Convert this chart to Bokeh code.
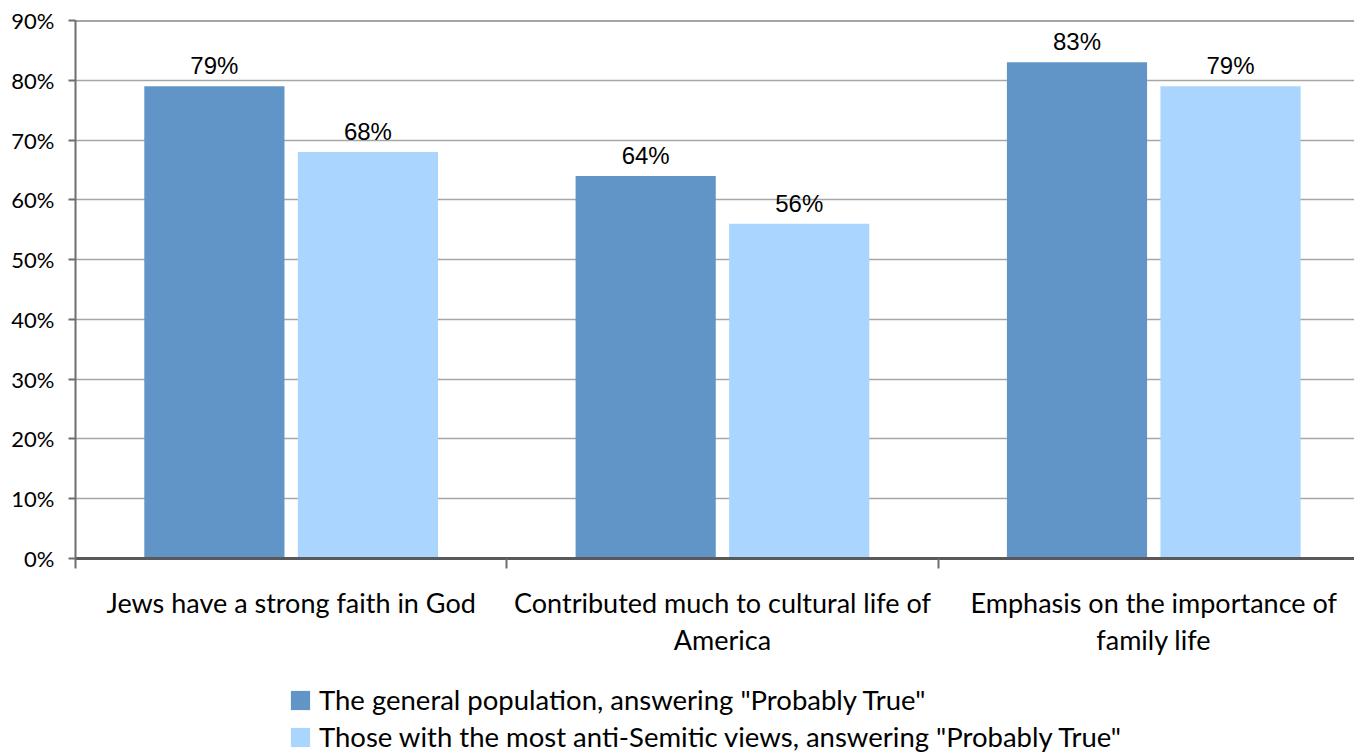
from bokeh.plotting import figure
from bokeh.layouts import column
from bokeh.models import (Range1d, FixedTicker, PrintfTickFormatter, Span, Legend,
                          LegendItem, ColumnDataSource, LabelSet)
from bokeh.core.properties import value
from bokeh.embed import file_html
from bokeh.resources import INLINE

categories = ["Jews have a strong faith in God",
              "Contributed much to cultural life of\nAmerica",
              "Emphasis on the importance of\nfamily life"]
general = [79, 64, 83]
antisemitic = [68, 56, 79]
series_names = ['The general population, answering "Probably True"',
                'Those with the most anti-Semitic views, answering "Probably True"']
y_ticks = [0, 10, 20, 30, 40, 50, 60, 70, 80, 90]

DARK = "#6195C8"
LIGHT = "#A9D5FE"
CAL = "Lato"

W = 1354
H1, H2 = 672, 84
left, top = 75, 20
bottom = H1 - 558
cat_px = 431.3
x_end = (W - left) / cat_px

p = figure(width=W, height=H1, x_range=Range1d(0, x_end), y_range=Range1d(0, 90),
           output_backend="svg", toolbar_location=None,
           min_border_left=left, min_border_right=0, min_border_top=top,
           min_border_bottom=bottom)
p.outline_line_color = None
p.background_fill_color = "white"

off = 0.178
bw = 0.325
idx = list(range(len(categories)))
src1 = ColumnDataSource(dict(x=[i + 0.5 - off for i in idx], top=general,
                             lab=[f"{v}%" for v in general]))
src2 = ColumnDataSource(dict(x=[i + 0.5 + off for i in idx], top=antisemitic,
                             lab=[f"{v}%" for v in antisemitic]))
r1 = p.vbar(x="x", top="top", width=bw, source=src1, fill_color=DARK, line_color=None)
r2 = p.vbar(x="x", top="top", width=bw, source=src2, fill_color=LIGHT, line_color=None)

for s in (src1, src2):
    p.add_layout(LabelSet(x="x", y="top", text="lab", source=s, text_align="center",
                          text_baseline="alphabetic", y_offset=12,
                          text_font=value("Liberation Sans"), text_font_size="24px",
                          text_color="black"))

# grid
p.xgrid.grid_line_color = None
p.ygrid.ticker = FixedTicker(ticks=y_ticks)
p.ygrid.grid_line_color = "#A6A6A6"
p.ygrid.grid_line_width = 1.5
p.add_layout(Span(location=90, dimension="width", line_color="#4D4D4D", line_width=2))

# y axis
ya = p.yaxis[0]
ya.ticker = FixedTicker(ticks=y_ticks)
ya.formatter = PrintfTickFormatter(format="%d%%")
ya.axis_line_color = "#6E6E6E"
ya.axis_line_width = 2
ya.major_tick_line_color = "#6E6E6E"
ya.major_tick_line_width = 2
ya.major_tick_out = 7
ya.major_tick_in = 0
ya.minor_tick_line_color = None
ya.major_label_standoff = 14
ya.major_label_text_font = CAL
ya.major_label_text_font_size = "22px"
ya.major_label_text_color = "black"

# x axis
xa = p.xaxis[0]
xa.ticker = FixedTicker(ticks=[i + 0.5 for i in idx],
                        minor_ticks=[float(i) for i in range(len(categories) + 1)])
xa.major_label_overrides = {i + 0.5: c for i, c in zip(idx, categories)}
xa.axis_line_color = "#595959"
xa.axis_line_width = 3
xa.major_tick_line_color = None
xa.major_tick_out = 0
xa.major_tick_in = 0
xa.minor_tick_line_color = "#6E6E6E"
xa.minor_tick_line_width = 2
xa.minor_tick_out = 10
xa.minor_tick_in = 0
xa.major_label_standoff = 17
xa.major_label_text_font = CAL
xa.major_label_text_font_size = "27px"
xa.major_label_text_color = "black"
xa.major_label_text_line_height = 1.15

# legend figure (separate strip below the chart)
p2 = figure(width=W, height=H2, x_range=Range1d(0, 1), y_range=Range1d(0, 1),
            output_backend="svg", toolbar_location=None,
            min_border_left=0, min_border_right=0, min_border_top=0, min_border_bottom=0)
p2.axis.visible = False
p2.grid.grid_line_color = None
p2.outline_line_color = None
# legend-only renderers, placed outside the visible range
g1 = p2.vbar(x=[i + 5 for i in idx], top=general, width=bw, fill_color=DARK, line_color=None)
g2 = p2.vbar(x=[i + 5 for i in idx], top=antisemitic, width=bw, fill_color=LIGHT, line_color=None)

legend = Legend(items=[LegendItem(label=series_names[0], renderers=[g1]),
                       LegendItem(label=series_names[1], renderers=[g2])],
                location=(213, 3), orientation="vertical",
                glyph_width=24, glyph_height=24, label_standoff=7, spacing=4,
                padding=0, margin=0, border_line_color=None, background_fill_alpha=0,
                label_text_font=CAL, label_text_font_size="27.5px", label_text_color="black")
p2.add_layout(legend, "center")

open("out.html", "w").write(file_html(column(p, p2, spacing=0), INLINE))
